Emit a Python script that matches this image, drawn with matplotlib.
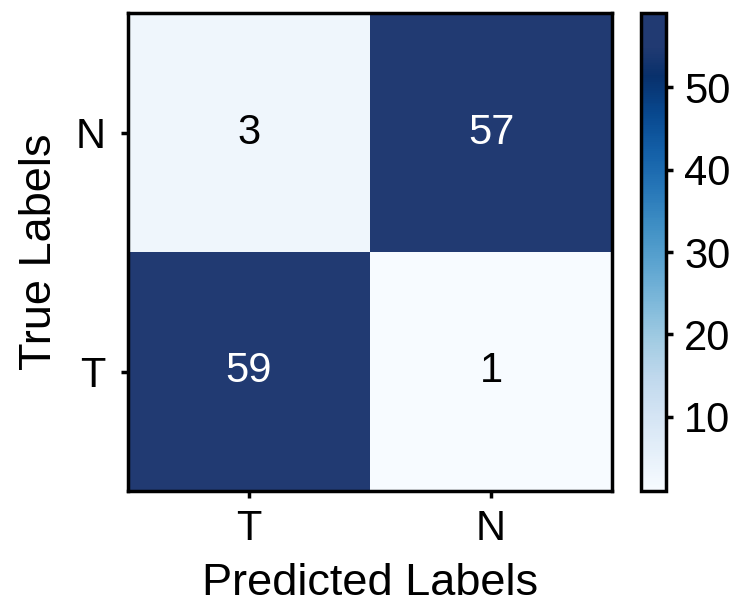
import numpy as np
import matplotlib
matplotlib.use("Agg")
from matplotlib import pyplot as plt
from matplotlib.colors import LinearSegmentedColormap

plt.rcParams['font.family'] = ['Liberation Sans', 'DejaVu Sans']

pred_labels = ["T", "N"]
true_labels = ["N", "T"]
counts = np.array([[3, 57],
                   [59, 1]])
cbar_ticks = [10, 20, 30, 40, 50]

# Blues up to ~51, then a flat greyer navy at the top, as in the picture
blues = plt.get_cmap("Blues")
stops = [(p * 0.87, blues(p)) for p in np.linspace(0, 1, 12)]
stops += [(0.93, "#213a72"), (1.0, "#213a72")]
cmap = LinearSegmentedColormap.from_list("cm_blues", stops)

fig = plt.figure(figsize=(7.4, 6.06), dpi=100)
ax = fig.add_axes([128/740, 1 - 491/606, 484/740, 478/606])
cax = fig.add_axes([641/740, 1 - 491/606, 25/740, 478/606])

im = ax.imshow(counts, cmap=cmap, vmin=counts.min(), vmax=counts.max(), aspect='auto')

for i in range(counts.shape[0]):
    for j in range(counts.shape[1]):
        val = counts[i, j]
        color = "white" if val > counts.max() / 2 else "black"
        ax.text(j, i, str(val), ha='center', va='center', fontsize=30, color=color)

ax.set_xticks(range(len(pred_labels)))
ax.set_xticklabels(pred_labels, fontsize=30)
ax.set_yticks(range(len(true_labels)))
ax.set_yticklabels(true_labels, fontsize=30)
ax.set_xlabel("Predicted Labels", fontsize=32.5, labelpad=10)
ax.set_ylabel("True Labels", fontsize=32.5, labelpad=11)
ax.tick_params(axis='y', length=5, width=2.5, pad=11)
ax.tick_params(axis='x', length=5, width=2.5, pad=8)
for sp in ax.spines.values():
    sp.set_linewidth(2.5)

cbar = fig.colorbar(im, cax=cax)
cbar.set_ticks(cbar_ticks)
cbar.ax.tick_params(labelsize=30, length=5, width=2.5, pad=8)
cbar.outline.set_linewidth(2.5)

fig.savefig("out.png", dpi=100)
